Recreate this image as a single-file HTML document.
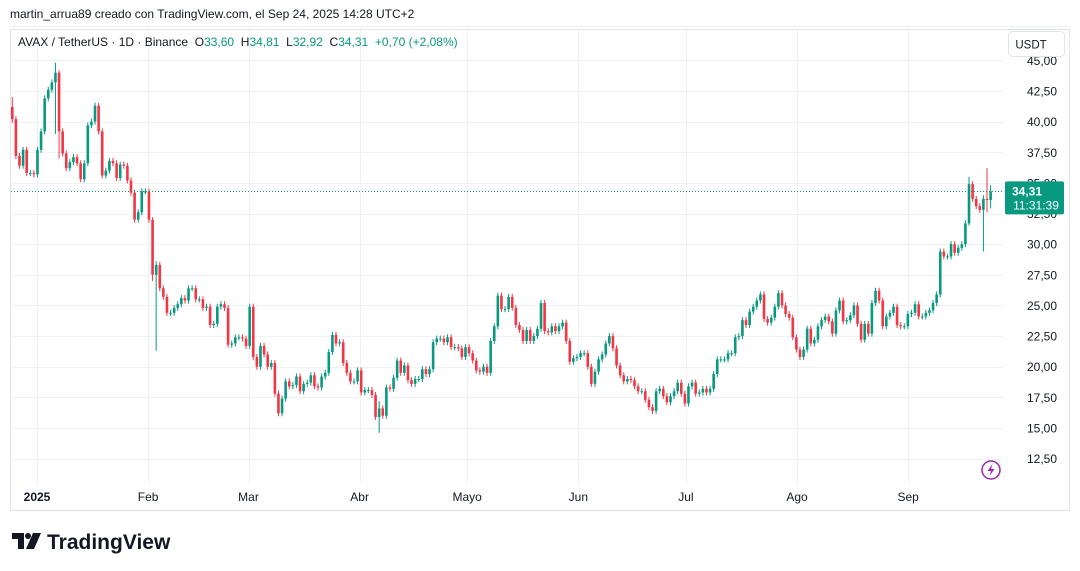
<!DOCTYPE html>
<html><head><meta charset="utf-8"><style>
body{margin:0;width:1080px;height:571px;background:#fff;overflow:hidden;font-family:"Liberation Sans",sans-serif;}
</style></head><body>
<svg id="c" width="1080" height="571" xmlns="http://www.w3.org/2000/svg" style="position:absolute;left:0;top:0;font-family:'Liberation Sans',sans-serif"></svg>
<script>
const firstOpen = 41.2;
const closes = [
40.2,37.2,36.4,37.7,35.8,35.8,35.7,37.7,39.2,41.9,42.6,43.2,44.0,39.2,37.4,36.2,36.7,37.1,36.6,35.3,36.6,39.7,40.0,41.3,39.2,35.6,36.0,36.8,36.6,35.4,36.5,36.4,35.2,34.2,32.0,32.6,34.3,34.3,32.0,27.5,28.3,26.4,25.7,24.4,24.4,24.8,25.1,25.6,25.4,26.4,26.4,25.5,25.5,24.8,24.9,23.4,23.5,24.9,25.1,24.8,21.8,21.9,22.4,22.4,22.3,21.7,24.9,20.8,20.0,21.7,21.0,20.0,20.3,17.8,16.2,17.4,18.8,18.4,18.5,19.2,18.0,18.6,18.7,19.3,18.4,18.3,19.2,19.5,21.2,22.6,21.9,
22.0,20.3,19.5,18.8,18.8,19.7,17.9,18.1,18.1,17.7,15.9,16.6,16.0,18.3,18.2,19.1,20.5,19.5,20.1,18.9,18.6,19.0,19.0,19.8,19.4,19.8,22.0,22.3,22.3,22.0,22.4,21.6,21.6,21.5,20.8,21.6,21.1,20.5,19.7,19.6,20.0,19.5,22.1,23.3,25.8,24.7,24.7,25.7,24.8,23.4,23.0,22.1,23.0,22.1,22.5,23.1,25.2,22.9,22.8,23.3,22.9,23.3,23.6,22.1,20.4,20.7,20.8,21.1,21.1,20.0,18.6,19.6,20.6,21.0,21.9,22.5,21.5,20.1,19.3,18.8,19.0,18.9,18.4,18.0,18.0,17.3,16.7,16.4,18.0,18.2,17.6,17.1,
17.6,18.0,18.7,17.8,17.0,18.4,18.7,17.8,17.9,18.2,17.9,18.2,19.4,20.6,20.6,20.6,21.1,21.1,22.4,22.5,23.8,23.4,24.5,24.9,25.4,25.9,23.9,23.6,24.0,24.9,26.0,25.0,24.3,24.0,22.4,21.4,20.8,21.4,23.1,21.9,22.2,23.3,23.8,24.1,23.7,22.7,24.6,25.4,23.7,23.8,24.2,25.0,23.5,22.2,23.5,22.7,25.2,26.2,25.4,23.3,24.1,24.4,24.9,23.4,23.3,23.3,24.3,24.4,25.1,24.1,24.1,24.4,24.6,25.2,25.9,29.4,29.0,29.0,30.0,29.3,29.7,30.0,31.7,34.9,33.7,33.1,32.8,33.7,33.6,34.31];
// notable wicks: [candle index, high, low]
const wickIdx = [0,12,13,39,40,102,266,270,271,272];
const wickHigh = [42.0,44.8,44.2,32.2,28.6,17.2,35.5,34.0,36.2,34.81];
const wickLow  = [39.9,39.0,37.0,27.0,21.3,14.6,31.5,29.4,32.6,32.92];
const priceTicks = [12.5,15,17.5,20,22.5,25,27.5,30,32.5,35,37.5,40,42.5,45];
const monthLabels = ["2025","Feb","Mar","Abr","Mayo","Jun","Jul","Ago","Sep"];
const monthDay = [0,31,59,90,120,151,181,212,243];
const lastPrice = 34.31;

const svg=document.getElementById('c');
const NS='http://www.w3.org/2000/svg';
function mk(t,a,p){const e=document.createElementNS(NS,t);for(const k in a)e.setAttribute(k,a[k]);(p||svg).appendChild(e);return e;}
const y=p=>428-(p-15)*12.255;
const N=closes.length;
const xi=i=>12.3+i*(990.6-12.3)/(N-1);
const xd=d=>37+d*3.585;
const G='#089981',R='#f23645';

let f=mk('rect',{x:10.5,y:29.5,width:1059,height:481,fill:'none',stroke:'#e0e3eb'});


mk('line',{x1:10,y1:26.5,x2:1070,y2:26.5,stroke:'#eef0f4'});
priceTicks.forEach(p=>{
 const yy=Math.round(y(p))+0.5;
 const l=mk('line',{x1:11,x2:1003,y1:yy,y2:yy,stroke:'#eef1f7'});
 
 
 const t=mk('text',{x:1042,y:y(p)+4.5,'text-anchor':'middle','font-size':12,fill:'#131722'});
 t.textContent=p.toFixed(2).replace('.',',');
 
 
});
monthDay.forEach((d,i)=>{
 const xx=Math.round(xd(d))+0.5;
 const l=mk('line',{x1:xx,x2:xx,y1:30,y2:483,stroke:'#eef1f7'});
 
 
 const t=mk('text',{x:xd(d),y:501,'text-anchor':'middle','font-size':12,fill:'#131722','font-weight':i==0?'bold':'normal'});
 t.textContent=monthLabels[i];
 
 
});
const g=mk('g',{});


for(let i=0;i<N;i++){
 const o=i==0?firstOpen:closes[i-1],c=closes[i];
 const col=c>=o?G:R;
 let hi=Math.max(o,c),lo=Math.min(o,c);
 const k=wickIdx.indexOf(i);
 let yh=y(hi)-3,yl=y(lo)+3;
 if(k>=0){yh=y(wickHigh[k]);yl=y(wickLow[k]);}
 const x=xi(i);
 const w=mk('line',{x1:x,x2:x,y1:yh,y2:yl,stroke:col,'stroke-width':1},g);
 
 
 const top=y(hi),h=Math.max(1,y(lo)-top);
 const b=mk('rect',{x:x-1.3,y:top,width:2.6,height:h,fill:col},g);
 
 
}
const ly=Math.round(y(lastPrice))+0.5;
const pl=mk('line',{x1:11,x2:1003,y1:ly,y2:ly,stroke:G,'stroke-dasharray':'1 2','stroke-width':1});


const lb=mk('rect',{x:1005,y:y(lastPrice)-10,width:59,height:33,fill:G,rx:2});


const t1=mk('text',{x:1027,y:y(lastPrice)+4,'text-anchor':'middle','font-size':12,fill:'#fff','font-weight':'bold'});
t1.textContent=lastPrice.toFixed(2).replace('.',',');


const t2=mk('text',{x:1036,y:y(lastPrice)+18,'text-anchor':'middle','font-size':12,fill:'#fff'});
t2.textContent='11:31:39';


const ub=mk('rect',{x:1008.5,y:31.5,width:56,height:25,rx:4,fill:'#fff',stroke:'#e0e3eb'});


const ut=mk('text',{x:1031,y:48.5,'text-anchor':'middle','font-size':11.5,fill:'#131722'});
ut.textContent='USDT';


const h1=mk('text',{x:10,y:18,'font-size':12,fill:'#131722'});
h1.textContent='martin_arrua89 creado con TradingView.com, el Sep 24, 2025 14:28 UTC+2';


const lg=mk('text',{x:18,y:46,'font-size':12,fill:'#131722'});


lg.innerHTML='AVAX / TetherUS · 1D · Binance  O<tspan fill="#089981">33,60</tspan>  H<tspan fill="#089981">34,81</tspan>  L<tspan fill="#089981">32,92</tspan>  C<tspan fill="#089981">34,31</tspan>  <tspan fill="#089981">+0,70 (+2,08%)</tspan>';
lg.setAttribute('xml:space','preserve');lg.style.whiteSpace='pre';
const li=mk('circle',{cx:991,cy:470,r:9,fill:'#fff',stroke:'#9c27b0','stroke-width':1.5});


mk('path',{d:'M992.5 464 L987.5 471 L991 471 L989.5 476 L994.5 469 L991 469 Z',fill:'#9c27b0'});
const lgG=mk('g',{});


mk('path',{d:'M12 533 H24 V549 H18 V539 H12 Z',fill:'#131722'},lgG);
mk('circle',{cx:28,cy:536,r:3,fill:'#131722'},lgG);
mk('path',{d:'M33 533 H41 L34 549 H26 Z',fill:'#131722'},lgG);
const lt=mk('text',{x:47,y:549,'font-size':21,'font-weight':'bold',fill:'#131722'},lgG);
lt.textContent='TradingView';
</script>
</body></html>
